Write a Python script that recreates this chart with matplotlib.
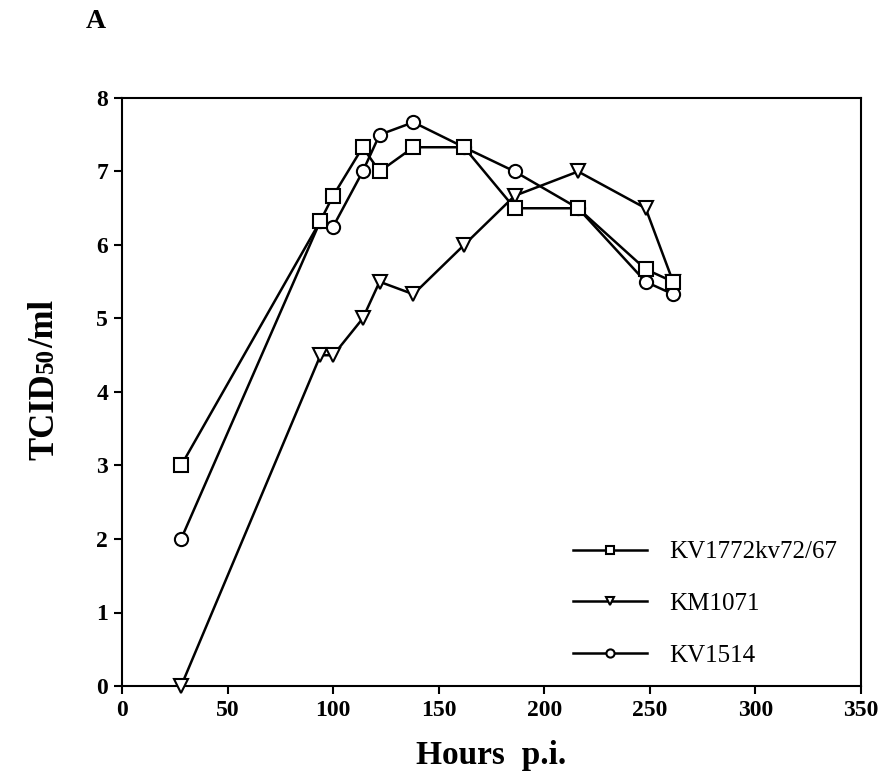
import matplotlib
matplotlib.use("Agg")
import matplotlib.pyplot as plt
from matplotlib.transforms import IdentityTransform

hours = [28, 94, 100, 114, 122, 138, 162, 186, 216, 248, 261]
kv1772 = [3.0, 6.33, 6.67, 7.33, 7.0, 7.33, 7.33, 6.5, 6.5, 5.67, 5.5]
km1071 = [0.0, 4.5, 4.5, 5.0, 5.5, 5.33, 6.0, 6.67, 7.0, 6.5, 5.5]
kv1514 = [2.0, 6.33, 6.25, 7.0, 7.5, 7.67, 7.33, 7.0, 6.5, 5.5, 5.33]
labels = ["KV1772kv72/67", "KM1071", "KV1514"]
xticks = [0, 50, 100, 150, 200, 250, 300, 350]
yticks = [0, 1, 2, 3, 4, 5, 6, 7, 8]
ylabel_parts = [("TCID", 25), ("50", 18), ("/ml", 25)]

plt.rcParams['font.family'] = ['Liberation Serif', 'DejaVu Serif']

W, H = 881, 781
fig = plt.figure(figsize=(W / 100, H / 100), dpi=100)
ax = fig.add_axes([122 / W, 1 - 686 / H, 739 / W, 588 / H])

common = dict(color='black', lw=1.8, mfc='white', mec='black', mew=1.5, clip_on=False)
l3, = ax.plot(hours, kv1514, marker='o', ms=9.5, label=labels[2], zorder=3, **common)
l2, = ax.plot(hours, km1071, marker='v', ms=10, label=labels[1], zorder=4, **common)
l1, = ax.plot(hours, kv1772, marker='s', ms=9.5, label=labels[0], zorder=5, **common)

ax.set_xlim(0, 350)
ax.set_ylim(0, 8)
ax.set_xticks(xticks)
ax.set_yticks(yticks)
for s in ax.spines.values():
    s.set_linewidth(1.5)
ax.tick_params(direction='out', length=6, width=1.5, labelsize=17, pad=4)
for t in ax.get_xticklabels() + ax.get_yticklabels():
    t.set_fontweight('bold')

ax.set_xlabel("Hours  p.i.", fontsize=24, fontweight='bold', labelpad=14)

leg = ax.legend(handles=[l1, l2, l3], loc='upper left', frameon=False,
                fontsize=18, markerscale=0.62, handlelength=2.95,
                handletextpad=0.9, labelspacing=1.16, borderpad=0,
                borderaxespad=0, bbox_to_anchor=((573 - 122) / 739, (686 - 541) / 588))

fig.text(96 / W, 1 - 22 / H, "A", fontsize=20, fontweight='bold', ha='center', va='center')

# rotated y label composed of pieces (small "50" on the baseline)
fig.canvas.draw()
renderer = fig.canvas.get_renderer()
pieces = []
total = 0
for txt, fs in ylabel_parts:
    t = fig.text(0, 0, txt, fontsize=fs, fontweight='bold', rotation=90,
                 rotation_mode='anchor', ha='left', va='baseline',
                 transform=IdentityTransform())
    bb = t.get_window_extent(renderer)
    pieces.append((t, bb.height))
    total += bb.height
center_y = H - 380
base_x = 53
y = center_y - total / 2
for t, h in pieces:
    t.set_position((base_x, y))
    y += h

fig.savefig("out.png", dpi=100)
